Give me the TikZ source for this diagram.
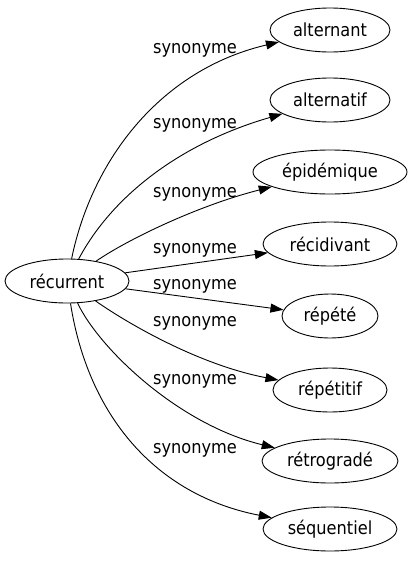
\documentclass[tikz,border=0pt]{standalone}
\usepackage{fontspec}
\setmainfont{DejaVu Sans Condensed}
\usetikzlibrary{shapes.geometric,arrows.meta}
\begin{document}
\begin{tikzpicture}[x=1pt,y=-1pt,
  word/.style={ellipse,draw,line width=0.9pt,inner sep=0pt,minimum height=44pt,font=\fontsize{18}{20}\selectfont},
  rel/.style={font=\fontsize{18}{20}\selectfont,inner sep=0pt},
  link/.style={draw,line width=0.9pt,-{Triangle[length=13pt,width=9pt]}}]
\useasboundingbox (0,0) rectangle (413,563);
\node[word,minimum width=124pt] (rec) at (67,281) {récurrent};
\node[word,minimum width=120pt] (n1) at (330,30) {alternant};
\node[word,minimum width=120pt] (n2) at (330,100) {alternatif};
\node[word,minimum width=154pt] (n3) at (330,172) {épidémique};
\node[word,minimum width=134pt] (n4) at (330,244) {récidivant};
\node[word,minimum width=96pt] (n5) at (330,316) {répété};
\node[word,minimum width=114pt] (n6) at (330,390) {répétitif};
\node[word,minimum width=136pt] (n7) at (330,461) {rétrogradé};
\node[word,minimum width=134pt] (n8) at (330,529) {séquentiel};
\node[rel] (l1) at (195,50) {synonyme};
\node[rel] (l2) at (195,125) {synonyme};
\node[rel] (l3) at (195,194) {synonyme};
\node[rel] (l4) at (195,250) {synonyme};
\node[rel] (l5) at (195,286) {synonyme};
\node[rel] (l6) at (195,323) {synonyme};
\node[rel] (l7) at (195,381) {synonyme};
\node[rel] (l8) at (195,450) {synonyme};
\path[link] (rec) .. controls (92,160) and (160,70) .. (n1);
\path[link] (rec) .. controls (110,200) and (175,145) .. (n2);
\path[link] (rec) .. controls (130,238) and (200,205) .. (n3);
\path[link] (rec) -- (n4);
\path[link] (rec) -- (n5);
\path[link] (rec) .. controls (130,325) and (200,365) .. (n6);
\path[link] (rec) .. controls (100,350) and (180,425) .. (n7);
\path[link] (rec) .. controls (88,415) and (155,495) .. (n8);
\end{tikzpicture}
\end{document}
